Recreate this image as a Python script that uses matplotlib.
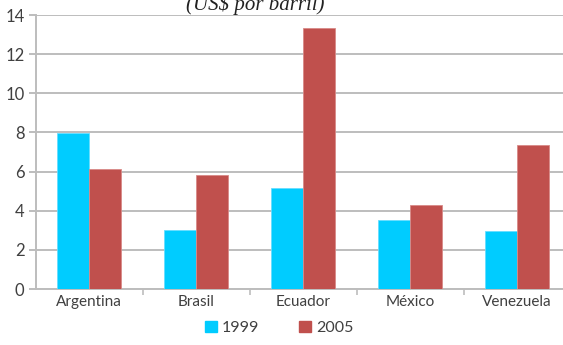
import matplotlib
matplotlib.use("Agg")
import matplotlib.pyplot as plt
import numpy as np
from matplotlib.patches import Patch

categories = ["Argentina", "Brasil", "Ecuador", "México", "Venezuela"]
v1999 = [7.95, 3.0, 5.15, 3.55, 2.95]
v2005 = [6.15, 5.8, 13.35, 4.3, 7.35]
series_names = ["1999", "2005"]
title = "(US$ por barril)"

W, H = 563, 345
fig = plt.figure(figsize=(W/100, H/100), dpi=100)
left, right = 35.5, 570.5
top, bottom = 15, 289
ax = fig.add_axes([left/W, 1 - bottom/H, (right-left)/W, (bottom-top)/H])

x = np.arange(len(categories))
bw = 0.3
c1, c2 = "#00CCFF", "#C0504D"
ax.bar(x - bw/2, v1999, bw, color=c1, edgecolor="#66ddff", linewidth=0.6, zorder=3)
ax.bar(x + bw/2, v2005, bw, color=c2, edgecolor="#d98a88", linewidth=0.6, zorder=3)

ax.set_xlim(-0.5, len(categories) - 0.5)
ax.set_ylim(0, 14)
ax.set_yticks(range(0, 15, 2))
ax.yaxis.grid(True, color="#BDBDBD", linewidth=1.4, zorder=0)
ax.set_axisbelow(True)

for s in ["top", "right"]:
    ax.spines[s].set_visible(False)
ax.spines["left"].set_color("#BDBDBD")
ax.spines["left"].set_linewidth(1.4)
ax.spines["bottom"].set_color("#BDBDBD")
ax.spines["bottom"].set_linewidth(1.4)

ax.set_xticks(x)
ax.set_xticklabels(categories, fontfamily="Lato", fontsize=11, color="#404040")
ax.set_xticks(np.arange(0.5, len(categories) - 0.5, 1), minor=True)
ax.tick_params(axis="x", which="major", length=0, pad=4)
ax.tick_params(axis="x", which="minor", length=4, color="#BDBDBD", width=1.2)
ax.tick_params(axis="y", length=5, color="#BDBDBD", width=1.4, pad=3,
               labelsize=12, labelcolor="#404040")
for lab in ax.get_yticklabels():
    lab.set_fontfamily("Lato")

fig.text(255/W, 1 - 5/H, title, ha="center", va="center", fontsize=15,
         fontstyle="italic", fontfamily="Liberation Serif", color="#222222")

handles = [Patch(color=c1, label=series_names[0]), Patch(color=c2, label=series_names[1])]
fig.legend(handles=handles, loc="center", bbox_to_anchor=(279/W, 1 - 328/H), ncol=2,
           frameon=False, prop={"family": "Lato", "size": 11.5},
           handlelength=0.75, handleheight=0.75, columnspacing=2.5, handletextpad=0.3,
           labelcolor="#404040")

fig.savefig("out.png", dpi=100)
